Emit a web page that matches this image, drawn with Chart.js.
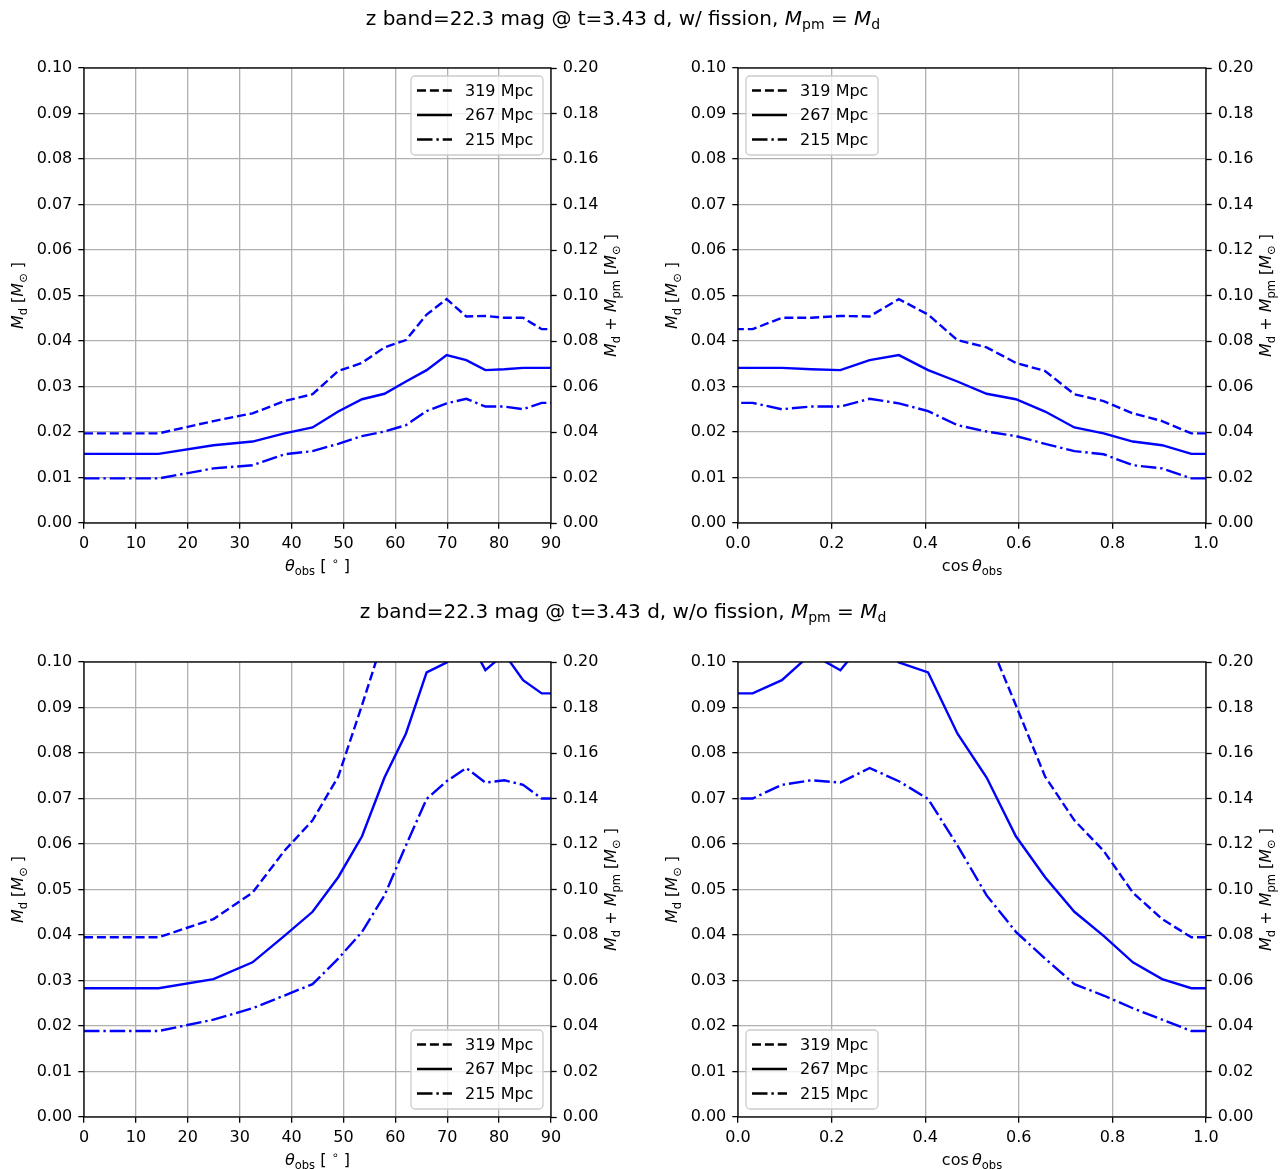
<!DOCTYPE html>
<html>
<head>
<meta charset="utf-8">
<script src="https://cdn.jsdelivr.net/npm/chart.js@4.4.1/dist/chart.umd.min.js"></script>
<style>
  body { margin: 0; background: #fff; width: 1282px; height: 1169px; position: relative; overflow: hidden; font-family: "DejaVu Sans", sans-serif; }
  canvas { position: absolute; }
  .title { position: absolute; left: 0; width: 1246px; text-align: center; font-size: 20px; line-height: 24px; color: #000; white-space: nowrap; }
  .title sub { font-size: 70%; vertical-align: baseline; position: relative; top: 0.25em; line-height: 0; }
</style>
</head>
<body>
<canvas id="fisTheta"></canvas>
<canvas id="fisCos"></canvas>
<canvas id="nofisTheta"></canvas>
<canvas id="nofisCos"></canvas>
<div class="title" style="top:6px">z band=22.3 mag @ t=3.43 d, w/ fission, <i>M</i><sub>pm</sub> = <i>M</i><sub>d</sub></div>
<div class="title" style="top:599px">z band=22.3 mag @ t=3.43 d, w/o fission, <i>M</i><sub>pm</sub> = <i>M</i><sub>d</sub></div>
<script>
// viewing angle grid (same points in both columns)
const thetaDeg = [0, 14.36, 24.95, 32.48, 38.62, 44.05, 48.99, 53.58, 57.91, 62.05, 66.03, 69.89, 73.67, 77.36, 81.01, 84.62, 88.21, 90];
const cosTheta = [1, 0.96875, 0.90625, 0.84375, 0.78125, 0.71875, 0.65625, 0.59375, 0.53125, 0.46875, 0.40625, 0.34375, 0.28125, 0.21875, 0.15625, 0.09375, 0.03125, 0];

const distances = ['319 Mpc', '267 Mpc', '215 Mpc'];

// M_d needed for z = 22.3 mag, with fission
const fis319 = [0.0197, 0.0197, 0.0224, 0.0241, 0.0268, 0.0283, 0.0334, 0.0352, 0.0386, 0.0402, 0.0458, 0.0492, 0.0454, 0.0455, 0.0451, 0.0451, 0.0426, 0.0426];
const fis267 = [0.0152, 0.0152, 0.0171, 0.0179, 0.0197, 0.0210, 0.0245, 0.0272, 0.0284, 0.0311, 0.0336, 0.0369, 0.0358, 0.0336, 0.0338, 0.0341, 0.0341, 0.0341];
const fis215 = [0.0098, 0.0098, 0.0120, 0.0127, 0.0151, 0.0158, 0.0174, 0.0191, 0.0201, 0.0215, 0.0246, 0.0263, 0.0273, 0.0256, 0.0256, 0.0250, 0.0264, 0.0264];

// without fission (values above 0.1 are off the plot)
const nofis319 = [0.0395, 0.0395, 0.0435, 0.0493, 0.0585, 0.0652, 0.0748, 0.0905, 0.106, 0.118, 0.128, 0.135, 0.140, 0.137, 0.135, 0.133, 0.130, 0.130];
const nofis267 = [0.0283, 0.0283, 0.0303, 0.0340, 0.0398, 0.0451, 0.0527, 0.0617, 0.0746, 0.0843, 0.0977, 0.0999, 0.106, 0.0982, 0.1018, 0.0960, 0.0931, 0.0931];
const nofis215 = [0.0189, 0.0189, 0.0214, 0.0239, 0.0267, 0.0292, 0.0348, 0.0407, 0.0487, 0.0597, 0.0699, 0.0738, 0.0767, 0.0735, 0.0740, 0.0730, 0.0700, 0.0700];

const thetaTicks = [0, 10, 20, 30, 40, 50, 60, 70, 80, 90];
const cosTicks = [0, 0.2, 0.4, 0.6, 0.8, 1.0];
const mdTicks = [0, 0.01, 0.02, 0.03, 0.04, 0.05, 0.06, 0.07, 0.08, 0.09, 0.1];
const mtotTicks = [0, 0.02, 0.04, 0.06, 0.08, 0.1, 0.12, 0.14, 0.16, 0.18, 0.2];

Chart.defaults.font.family = '"DejaVu Sans", sans-serif';
Chart.defaults.font.size = 16;
Chart.defaults.color = '#000';

const LW = 2.4;
const dashes = [[9, 3.9], [], [15.5, 3.9, 2.4, 3.9]];
const GRID = '#b0b0b0';

const mdTitle = [{t: 'M', it: 1}, {t: 'd', sub: 1}, {t: ' ['}, {t: 'M', it: 1}, {t: '\u2299', sub: 1}, {t: ' ]'}];
const mtotTitle = [{t: 'M', it: 1}, {t: 'd', sub: 1}, {t: ' + '}, {t: 'M', it: 1}, {t: 'pm', sub: 1}, {t: ' ['}, {t: 'M', it: 1}, {t: '\u2299', sub: 1}, {t: ' ]'}];
const thetaTitle = [{t: '\u03b8', it: 1}, {t: 'obs', sub: 1}, {t: ' [ '}, {t: '\u2218', sup: 1}, {t: ' ]'}];
const cosTitle = [{t: 'cos\u2009'}, {t: '\u03b8', it: 1}, {t: 'obs', sub: 1}];

function drawRich(ctx, parts, x, y, rot) {
  const size = 16;
  const fontOf = p => (p.it ? 'italic ' : '') + ((p.sub || p.sup) ? size * 0.72 : size) + 'px "DejaVu Sans"';
  ctx.save();
  ctx.translate(x, y);
  ctx.rotate(rot);
  ctx.textBaseline = 'alphabetic';
  ctx.textAlign = 'left';
  ctx.fillStyle = '#000';
  let total = 0;
  parts.forEach(p => { ctx.font = fontOf(p); total += ctx.measureText(p.t).width; });
  let cx = -total / 2;
  parts.forEach(p => {
    ctx.font = fontOf(p);
    const dy = p.sub ? 0.22 * size : (p.sup ? -0.38 * size : 0);
    ctx.fillText(p.t, cx, dy);
    cx += ctx.measureText(p.t).width;
  });
  ctx.restore();
}

const decor = {
  id: 'decor',
  afterDatasetsDraw(chart, args, o) {
    const ctx = chart.ctx, a = chart.chartArea;
    ctx.save();
    // spines
    ctx.strokeStyle = '#000';
    ctx.lineWidth = 1.3;
    ctx.setLineDash([]);
    ctx.strokeRect(a.left, a.top, a.right - a.left, a.bottom - a.top);

    // legend box
    const bw = 132, bh = 79, m = 8;
    const bx = o.corner.includes('r') ? a.right - m - bw : a.left + m;
    const by = o.corner.includes('t') ? a.top + m : a.bottom - m - bh;
    ctx.beginPath();
    ctx.roundRect(bx, by, bw, bh, 4);
    ctx.fillStyle = 'rgba(255,255,255,0.8)';
    ctx.fill();
    ctx.strokeStyle = '#cccccc';
    ctx.lineWidth = 1.3;
    ctx.stroke();
    chart.data.datasets.forEach((ds, i) => {
      const ry = by + 14.5 + i * 24.5;
      ctx.beginPath();
      ctx.setLineDash(ds.borderDash);
      ctx.strokeStyle = '#000';
      ctx.lineWidth = LW;
      ctx.moveTo(bx + 6, ry);
      ctx.lineTo(bx + 41, ry);
      ctx.stroke();
      ctx.setLineDash([]);
      ctx.fillStyle = '#000';
      ctx.font = '16px "DejaVu Sans"';
      ctx.textBaseline = 'middle';
      ctx.textAlign = 'left';
      ctx.fillText(ds.label, bx + 54, ry + 1);
    });

    // axis titles
    const midY = (a.top + a.bottom) / 2;
    drawRich(ctx, o.xTitle, (a.left + a.right) / 2, a.bottom + 48, 0);
    drawRich(ctx, mdTitle, a.left - 61, midY, -Math.PI / 2);
    drawRich(ctx, mtotTitle, a.right + 65, midY, -Math.PI / 2);
    ctx.restore();
  }
};

function makePanel(id, plotL, plotT, plotW, plotH, xs, xTicks, xDec, series, corner, xTitle) {
  const cv = document.getElementById(id);
  cv.width = plotW + 84 + 80;
  cv.height = plotH + 68 + 62;
  cv.style.left = (plotL - 84) + 'px';
  cv.style.top = (plotT - 68) + 'px';
  const tickGrid = {color: GRID, lineWidth: 1.3, tickColor: '#000', tickLength: 5.7, tickWidth: 1.3};
  new Chart(cv, {
    type: 'line',
    data: {
      datasets: series.map((vals, i) => ({
        label: distances[i],
        data: vals.map((v, j) => ({x: xs[j], y: v})),
        borderColor: '#0000ff',
        borderWidth: LW,
        borderDash: dashes[i],
        pointRadius: 0,
        tension: 0,
        fill: false,
        clip: 0,
        yAxisID: 'y'
      }))
    },
    options: {
      responsive: false,
      animation: false,
      devicePixelRatio: 1,
      layout: {padding: {left: 34, right: 24, top: 68, bottom: 32}},
      plugins: {
        legend: {display: false},
        tooltip: {enabled: false},
        decor: {corner: corner, xTitle: xTitle}
      },
      scales: {
        x: {
          type: 'linear',
          min: xTicks[0],
          max: xTicks[xTicks.length - 1],
          afterBuildTicks: s => { s.ticks = xTicks.map(v => ({value: v})); },
          afterFit: s => { s.height = 30; },
          grid: tickGrid,
          border: {display: false},
          ticks: {color: '#000', padding: 6, maxRotation: 0, autoSkip: false, callback: v => v.toFixed(xDec)}
        },
        y: {
          type: 'linear',
          position: 'left',
          min: 0,
          max: 0.1,
          afterBuildTicks: s => { s.ticks = mdTicks.map(v => ({value: v})); },
          afterFit: s => { s.width = 50; },
          grid: tickGrid,
          border: {display: false},
          ticks: {color: '#000', padding: 6, autoSkip: false, callback: v => v.toFixed(2)}
        },
        y2: {
          type: 'linear',
          position: 'right',
          display: true,
          min: 0,
          max: 0.2,
          afterBuildTicks: s => { s.ticks = mtotTicks.map(v => ({value: v})); },
          afterFit: s => { s.width = 56; },
          grid: {drawOnChartArea: false, tickColor: '#000', tickLength: 5.7, tickWidth: 1.3},
          border: {display: false},
          ticks: {color: '#000', padding: 6, autoSkip: false, callback: v => v.toFixed(2)}
        }
      }
    },
    plugins: [decor]
  });
}

makePanel('fisTheta', 84, 68, 467, 455, thetaDeg, thetaTicks, 0, [fis319, fis267, fis215], 'tr', thetaTitle);
makePanel('fisCos', 738, 68, 468, 455, cosTheta, cosTicks, 1, [fis319, fis267, fis215], 'tl', cosTitle);
makePanel('nofisTheta', 84, 662, 467, 455, thetaDeg, thetaTicks, 0, [nofis319, nofis267, nofis215], 'br', thetaTitle);
makePanel('nofisCos', 738, 662, 468, 455, cosTheta, cosTicks, 1, [nofis319, nofis267, nofis215], 'bl', cosTitle);
</script>
</body>
</html>
